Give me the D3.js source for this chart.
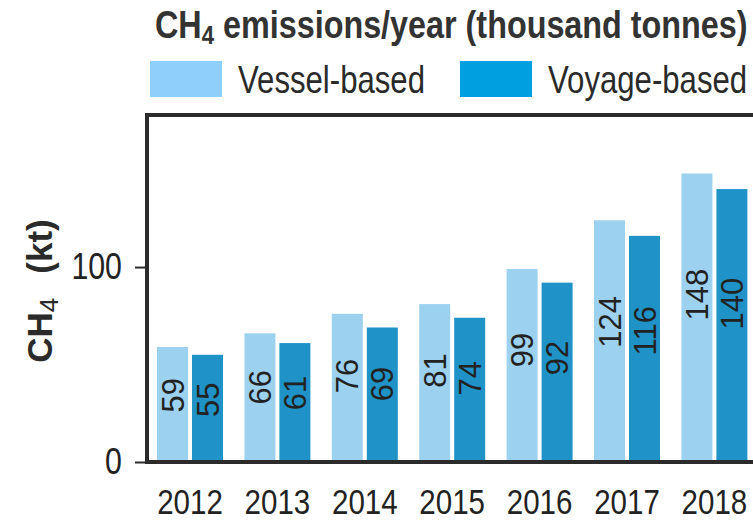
<!DOCTYPE html>
<html>
<head>
<meta charset="utf-8">
<script src="https://cdn.jsdelivr.net/npm/d3@7"></script>
<style>
  html, body { margin: 0; padding: 0; background: #fff; }
  svg { display: block; }
</style>
</head>
<body>
<svg id="chart" width="753" height="522"></svg>
<script>
// data
const years = ["2012", "2013", "2014", "2015", "2016", "2017", "2018"];
const seriesKeys = ["vessel", "voyage"];
const seriesNames = ["Vessel-based", "Voyage-based"];
const vesselValues = [59, 66, 76, 81, 99, 124, 148];
const voyageValues = [55, 61, 69, 74, 92, 116, 140];
const yTicks = [0, 100];

const barColors = { vessel: "#9dd1f0", voyage: "#1f93c7" };
const swatchColors = { vessel: "#8ed0fb", voyage: "#00a0e0" };
const ink = "#2b2b2b";
const sans = "'Liberation Sans', Arimo, Arial, sans-serif";
const narrowK = 0.82; // Arial Narrow is Arial squeezed to 82%

const rows = years.map((yr, i) => ({ year: yr, vessel: vesselValues[i], voyage: voyageValues[i] }));

const svg = d3.select("#chart");

const plot = { left: 147, top: 115, bottom: 462 };

// squeeze a text horizontally around a fixed x
function squeeze(sel, k, ax) {
    sel.attr("transform", `translate(${ax},0) scale(${k},1) translate(${-ax},0)`);
}

// scales
const x = d3.scaleBand()
    .domain(years)
    .range([146.3, 758.1])
    .paddingInner(0.245)
    .paddingOuter(0.1225);

const xSub = d3.scaleBand()
    .domain(seriesKeys)
    .range([0, x.bandwidth()])
    .paddingInner(0.114);

const y = d3.scaleLinear()
    .domain([0, 178])
    .range([plot.bottom, plot.top]);

// bars
const groups = svg.append("g")
    .selectAll("g")
    .data(rows)
    .join("g")
    .attr("transform", d => `translate(${x(d.year)},0)`);

groups.selectAll("rect")
    .data(d => seriesKeys.map(k => ({ key: k, value: d[k] })))
    .join("rect")
    .attr("x", d => xSub(d.key))
    .attr("y", d => y(d.value))
    .attr("width", xSub.bandwidth())
    .attr("height", d => y(0) - y(d.value))
    .attr("fill", d => barColors[d.key]);

// value labels, rotated inside bars
groups.selectAll("text")
    .data(d => seriesKeys.map(k => ({ key: k, value: d[k] })))
    .join("text")
    .attr("transform", d => `translate(${xSub(d.key) + xSub.bandwidth() / 2},${y(d.value * 0.58)}) rotate(-90)`)
    .attr("text-anchor", "middle")
    .attr("dy", "0.36em")
    .style("font-family", sans)
    .style("font-size", "31px")
    .attr("fill", "#222")
    .text(d => d.value);

// frame: left, top and bottom lines (right side runs off the picture)
svg.append("path")
    .attr("d", `M760,${plot.top}H${plot.left}V${plot.bottom}H760`)
    .attr("fill", "none")
    .attr("stroke", ink)
    .attr("stroke-width", 4);

// y axis ticks and labels
const yAxis = svg.append("g")
    .attr("transform", `translate(${plot.left},0)`)
    .call(d3.axisLeft(y).tickValues(yTicks).tickSize(12).tickPadding(13));

yAxis.select(".domain").remove();
yAxis.selectAll(".tick line").attr("stroke", ink).attr("stroke-width", 2);
yAxis.selectAll(".tick text")
    .style("font-family", sans)
    .style("font-size", "37px")
    .attr("fill", "#222")
    .call(squeeze, narrowK, -25);

// x axis labels
const xAxis = svg.append("g")
    .attr("transform", `translate(0,${plot.bottom})`)
    .call(d3.axisBottom(x).tickSize(0).tickPadding(0));

xAxis.select(".domain").remove();
xAxis.selectAll(".tick text")
    .attr("y", 52)
    .attr("dy", 0)
    .style("font-family", sans)
    .style("font-size", "36px")
    .attr("fill", "#222")
    .call(squeeze, narrowK, 0);

// y axis title
const yTitle = svg.append("g")
    .attr("transform", "translate(52,291) rotate(-90)")
    .append("text")
    .attr("text-anchor", "middle")
    .style("font-family", sans)
    .style("font-size", "35px")
    .style("font-weight", "bold")
    .attr("fill", "#2a2a2a");
yTitle.append("tspan").text("CH");
yTitle.append("tspan").attr("dy", 6).style("font-size", "26px").style("font-weight", "normal").text("4");
yTitle.append("tspan").attr("dy", -6).attr("dx", 24).text("(kt)");

// chart title, fitted to the width it takes in the picture
const title = svg.append("text")
    .attr("x", 155)
    .attr("y", 38)
    .style("font-family", sans)
    .style("font-size", "38px")
    .style("font-weight", "bold")
    .attr("fill", "#333");
title.append("tspan").text("CH");
title.append("tspan").attr("dy", 6).style("font-size", "26px").text("4");
title.append("tspan").attr("dy", -6).text(" emissions/year (thousand tonnes)");
squeeze(title, 593 / title.node().getBBox().width, 155);

// legend
const legendX = [150, 460];
const legend = svg.append("g")
    .selectAll("g")
    .data(seriesKeys)
    .join("g")
    .attr("transform", (d, i) => `translate(${legendX[i]},61)`);

legend.append("rect")
    .attr("width", 72)
    .attr("height", 36)
    .attr("fill", d => swatchColors[d]);

legend.append("text")
    .attr("x", 88)
    .attr("y", 32)
    .style("font-family", sans)
    .style("font-size", "38px")
    .attr("fill", "#2a2a2a")
    .text((d, i) => seriesNames[i])
    .call(squeeze, narrowK, 88);
</script>
</body>
</html>
